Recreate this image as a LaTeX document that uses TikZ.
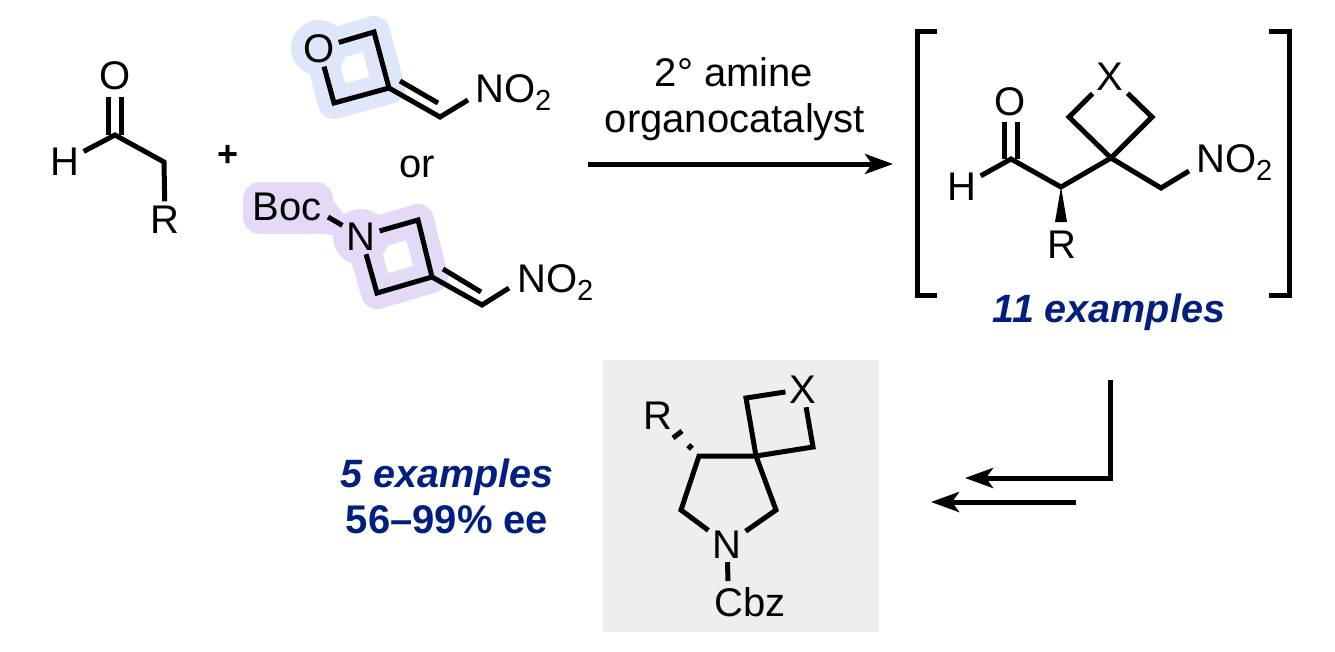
\documentclass[tikz,border=0pt]{standalone}
\usepackage{fontspec}
\setmainfont{Liberation Sans}
\usetikzlibrary{arrows.meta}
\definecolor{oxblue}{HTML}{DFE6FA}
\definecolor{azpurple}{HTML}{E4D9F7}
\definecolor{boxgrey}{HTML}{EEEEEE}
\definecolor{exblue}{HTML}{001F7F}
\newcommand{\nitro}{NO\raisebox{-8pt}{\fontsize{29}{29}\selectfont 2}}
\begin{document}
\begin{tikzpicture}[x=1pt,y=-1pt,
  bond/.style={line width=5pt,line join=miter},
  arrowline/.style={line width=5pt,-{Stealth[length=28pt,width=20pt,inset=7pt]}},
  atom/.style={anchor=base,inner sep=4pt,font=\fontsize{40}{40}\selectfont},
  label/.style={anchor=base,inner sep=0pt,font=\fontsize{40}{40}\selectfont},
  group/.style={anchor=base west,inner sep=0pt,font=\fontsize{40}{40}\selectfont},
  yield/.style={anchor=base,inner sep=0pt,text=exblue,font=\fontsize{39.5}{39.5}\selectfont\bfseries\itshape},
  yieldup/.style={anchor=base,inner sep=0pt,text=exblue,font=\fontsize{40}{40}\selectfont\bfseries},
  halo/.style={line width=32pt,line join=round}]
\useasboundingbox (0,0) rectangle (1335,651);

\fill[oxblue] (319,48) circle [radius=28];
\draw[halo,oxblue] (319,48)--(374,32)--(389,88)--(334,103)--cycle;
\fill[azpurple,rounded corners=17pt] (243,182) rectangle (333,234);
\fill[azpurple] (361,237) circle [radius=28];
\draw[halo,azpurple] (361,237)--(418,220)--(432,277)--(377,293)--cycle;
\fill[azpurple] (333,200)--(361,237)--(320,234)--cycle;
\fill[boxgrey] (603,360) rectangle (879,632);

\node[atom] (oa) at (115,89.5) {O};
\node[atom] (ha) at (65,175) {H};
\node[atom] (ra) at (165,233) {R};
\coordinate (ca) at (115,135);
\coordinate (cb) at (164,162);
\coordinate (dal) at (108.5,135);
\coordinate (dar) at (121.5,135);
\coordinate (eal) at (108.5,97);
\coordinate (ear) at (121.5,97);
\draw[bond] (ha)--(ca)--(cb)--(ra);
\draw[bond] (dal)--(eal);
\draw[bond] (dar)--(ear);
\node[label] (plus) at (228,166) {\bfseries\fontsize{36}{36}\selectfont +};

\node[atom] (ob) at (319,62) {O};
\coordinate (ox1) at (374,32);
\coordinate (ox2) at (389,88);
\coordinate (ox3) at (334,103);
\coordinate (ex1) at (440,117);
\coordinate (dx1) at (400,81);
\coordinate (dx2) at (438,103);
\coordinate (nb1) at (468,100);
\node[group] (noa) at (475,102) {\nitro};
\draw[bond] (ob)--(ox1)--(ox2)--(ox3)--(ob);
\draw[bond] (ox2)--(ex1)--(nb1);
\draw[bond] (dx1)--(dx2);

\node[label] (ora) at (417,177) {or};

\node[atom] (na) at (361,250) {N};
\node[label] (boc) at (287,220) {Boc};
\coordinate (bb) at (328,217);
\coordinate (az1) at (418,220);
\coordinate (az2) at (432,277);
\coordinate (az3) at (377,293);
\coordinate (ex2) at (482,305);
\coordinate (dz1) at (443,269);
\coordinate (dz2) at (481,292);
\coordinate (nb2) at (509,288);
\node[group] (nob) at (517,292) {\nitro};
\draw[bond] (bb)--(na);
\draw[bond] (na)--(az1)--(az2)--(az3)--(na);
\draw[bond] (az2)--(ex2)--(nb2);
\draw[bond] (dz1)--(dz2);

\node[label] (cata) at (734,86) {2° amine};
\node[label] (catb) at (735,132) {organocatalyst};
\coordinate (arrs) at (588,164);
\coordinate (arre) at (893,164);
\draw[arrowline] (arrs)--(arre);

\coordinate (blt) at (937,31);
\coordinate (blu) at (917,31);
\coordinate (bld) at (917,295);
\coordinate (blb) at (937,295);
\coordinate (brt) at (1269,31);
\coordinate (bru) at (1289,31);
\coordinate (brd) at (1289,295);
\coordinate (brb) at (1269,295);
\draw[bond] (blt)--(blu)--(bld)--(blb);
\draw[bond] (brt)--(bru)--(brd)--(brb);

\node[atom] (oc) at (1010,115) {O};
\node[atom] (hc) at (962,200) {H};
\node[atom] (rc) at (1062,258) {R};
\node[atom] (xa) at (1110,90) {X};
\coordinate (cc) at (1011,159);
\coordinate (cd) at (1061,187);
\coordinate (ce) at (1111,158);
\coordinate (cf) at (1069,117);
\coordinate (cg) at (1152,117);
\coordinate (ch) at (1161,188);
\coordinate (nb3) at (1189,171);
\coordinate (dcl) at (1004.5,159);
\coordinate (dcr) at (1017.5,159);
\coordinate (ecl) at (1004.5,122);
\coordinate (ecr) at (1017.5,122);
\coordinate (wl) at (1055,222);
\coordinate (wr) at (1067,222);
\node[group] (noc) at (1196,172) {\nitro};
\draw[bond] (hc)--(cc)--(cd)--(ce)--(ch)--(nb3);
\draw[bond] (dcl)--(ecl);
\draw[bond] (dcr)--(ecr);
\draw[bond] (xa)--(cf)--(ce)--(cg)--(xa);
\fill (cd)--(wl)--(wr)--cycle;
\node[yield] (exa) at (1109,322) {11 examples};

\coordinate (ua) at (1110,380);
\coordinate (ub) at (1110,478);
\coordinate (uc) at (965,478);
\coordinate (ud) at (1076,502);
\coordinate (ue) at (931,502);
\draw[arrowline] (ua)--(ub)--(uc);
\draw[arrowline] (ud)--(ue);

\node[atom] (rd) at (658,429) {R};
\node[atom] (xb) at (803,403) {X};
\node[atom] (nc) at (727,558) {N};
\node[label] (cbz) at (750,616) {Cbz};
\coordinate (pa) at (699,456);
\coordinate (pb) at (756,456);
\coordinate (pc) at (776,510);
\coordinate (pd) at (681,510);
\coordinate (qa) at (746,398);
\coordinate (qb) at (813,447);
\coordinate (hsa) at (673,438);
\coordinate (hsb) at (682,431);
\coordinate (hsc) at (688,449);
\coordinate (hsd) at (692,445);
\coordinate (cz) at (728,581);
\draw[bond] (nc)--(pd)--(pa)--(pb)--(pc)--(nc);
\draw[bond] (pb)--(qa)--(xb)--(qb)--(pb);
\draw[bond] (hsa)--(hsb);
\draw[bond] (hsc)--(hsd);
\draw[bond] (nc)--(cz);

\node[yield] (exb) at (447,487) {5 examples};
\node[yieldup] (eec) at (447,533) {56–99\% ee};
\end{tikzpicture}
\end{document}
